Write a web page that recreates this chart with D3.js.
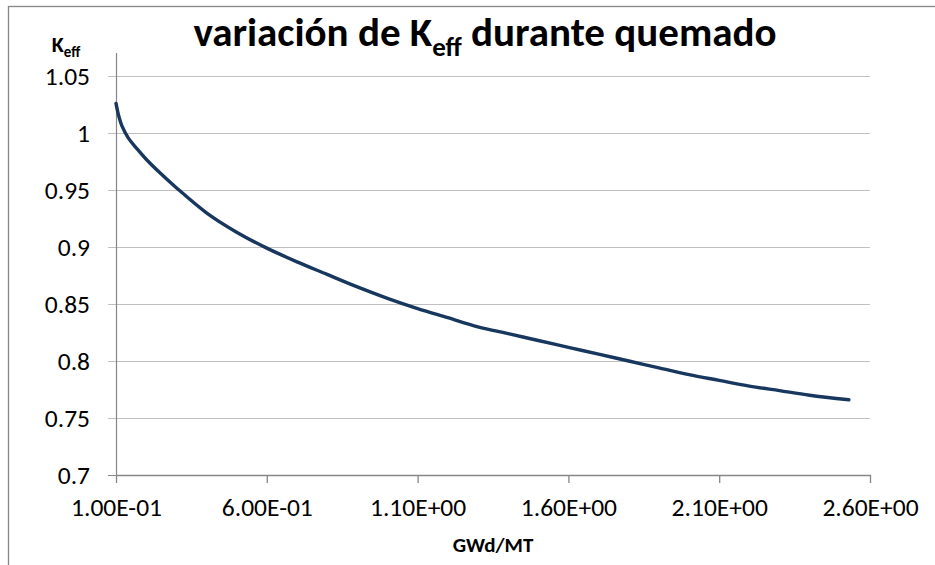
<!DOCTYPE html>
<html>
<head>
<meta charset="utf-8">
<script src="https://cdn.jsdelivr.net/npm/d3@7"></script>
<style>
  body { margin: 0; background: #fff; }
  svg { display: block; font-family: Carlito, Calibri, Lato, sans-serif; }
</style>
</head>
<body>
<div id="chart"></div>
<script>
// burnup (GWd/MT) and k-eff
const burnup = [0.1, 0.11, 0.12, 0.14, 0.17, 0.2, 0.25, 0.3, 0.4, 0.5, 0.6, 0.7, 0.8, 0.9, 1.0, 1.1,
  1.2, 1.3, 1.4, 1.5, 1.6, 1.7, 1.8, 1.9, 2.0, 2.1, 2.2, 2.3, 2.4, 2.53];
const keff = [1.026, 1.014, 1.006, 0.996, 0.986, 0.977, 0.964, 0.952, 0.930, 0.913, 0.899, 0.887,
  0.876, 0.865, 0.855, 0.846, 0.838, 0.830, 0.824, 0.818, 0.812, 0.806, 0.800, 0.794, 0.788,
  0.783, 0.778, 0.774, 0.770, 0.766];

const xTicks = [0.1, 0.6, 1.1, 1.6, 2.1, 2.6];
const xTickLabels = ['1.00E-01', '6.00E-01', '1.10E+00', '1.60E+00', '2.10E+00', '2.60E+00'];
const yTicks = [0.7, 0.75, 0.8, 0.85, 0.9, 0.95, 1.0, 1.05];
const yTickLabels = ['0.7', '0.75', '0.8', '0.85', '0.9', '0.95', '1', '1.05'];

const W = 935, H = 565;
const margin = { left: 116, top: 76, right: 65, bottom: 90 };
const width = W - margin.left - margin.right;
const height = H - margin.top - margin.bottom;
const font = 'Carlito, Calibri, Lato, sans-serif';

const svg = d3.select('#chart').append('svg')
  .attr('width', W)
  .attr('height', H);

// chart frame (runs past the right and bottom edges)
svg.append('rect')
  .attr('x', 8.5).attr('y', 6.5)
  .attr('width', W + 20).attr('height', H + 20)
  .attr('fill', 'none')
  .attr('stroke', '#868686')
  .attr('stroke-width', 1.3);

const g = svg.append('g')
  .attr('transform', `translate(${margin.left}, ${margin.top})`);

const x = d3.scaleLinear().domain([0.1, 2.6]).range([0, width]);
const y = d3.scaleLinear().domain([0.7, 1.05]).range([height, 0]);

// gridlines with the little outside tick
g.append('g')
  .selectAll('line')
  .data(yTicks.slice(1))
  .enter().append('line')
    .attr('x1', -8)
    .attr('x2', width)
    .attr('y1', d => Math.round(y(d)) + 0.5)
    .attr('y2', d => Math.round(y(d)) + 0.5)
    .attr('stroke', '#c0c0c0')
    .attr('stroke-width', 1.2);

// y axis
const yAxis = g.append('g')
  .call(d3.axisLeft(y).tickValues(yTicks).tickSize(0).tickPadding(26)
    .tickFormat((d, i) => yTickLabels[i]));
yAxis.select('.domain').remove();
yAxis.selectAll('text')
  .attr('font-size', '25.5px')
  .attr('dy', '0.34em')
  .attr('fill', '#000')
  .attr('font-family', font);

g.append('line')
  .attr('x1', 0.5).attr('x2', 0.5)
  .attr('y1', -23).attr('y2', height)
  .attr('stroke', '#868686')
  .attr('stroke-width', 1.2);
g.append('line')
  .attr('x1', -8).attr('x2', 0)
  .attr('y1', height + 0.5).attr('y2', height + 0.5)
  .attr('stroke', '#868686');

// x axis
const xAxis = g.append('g')
  .attr('transform', `translate(0, ${height})`)
  .call(d3.axisBottom(x).tickValues(xTicks).tickSize(8).tickSizeOuter(0).tickPadding(33)
    .tickFormat((d, i) => xTickLabels[i]));
xAxis.select('.domain').attr('stroke', '#868686').attr('stroke-width', 1.5);
xAxis.selectAll('.tick line').attr('stroke', '#868686').attr('stroke-width', 1.3);
xAxis.selectAll('text')
  .attr('font-size', '25.5px')
  .attr('dy', '0')
  .attr('fill', '#000')
  .attr('font-family', font);

// the curve
const line = d3.line()
  .x((d, i) => x(burnup[i]))
  .y(d => y(d))
  .curve(d3.curveCatmullRom.alpha(0.5));

g.append('path')
  .datum(keff)
  .attr('d', line)
  .attr('fill', 'none')
  .attr('stroke', '#17375e')
  .attr('stroke-width', 3.4)
  .attr('stroke-linecap', 'round');

// title
const title = svg.append('text')
  .attr('x', 485)
  .attr('y', 46)
  .attr('text-anchor', 'middle')
  .attr('font-size', '41px')
  .attr('font-weight', 'bold');
title.append('tspan').text('variación de K');
title.append('tspan').text('eff').attr('font-size', '27px').attr('dy', 10);
title.append('tspan').text(' durante quemado').attr('dy', -10);

// axis titles
const yTitle = svg.append('text')
  .attr('x', 66)
  .attr('y', 52)
  .attr('text-anchor', 'middle')
  .attr('font-size', '22px')
  .attr('font-weight', 'bold');
yTitle.append('tspan').text('K');
yTitle.append('tspan').text('eff').attr('font-size', '15px').attr('dy', 5);

svg.append('text')
  .attr('x', margin.left + width / 2)
  .attr('y', 552)
  .attr('text-anchor', 'middle')
  .attr('font-size', '21px')
  .attr('font-weight', 'bold')
  .text('GWd/MT');
</script>
</body>
</html>
